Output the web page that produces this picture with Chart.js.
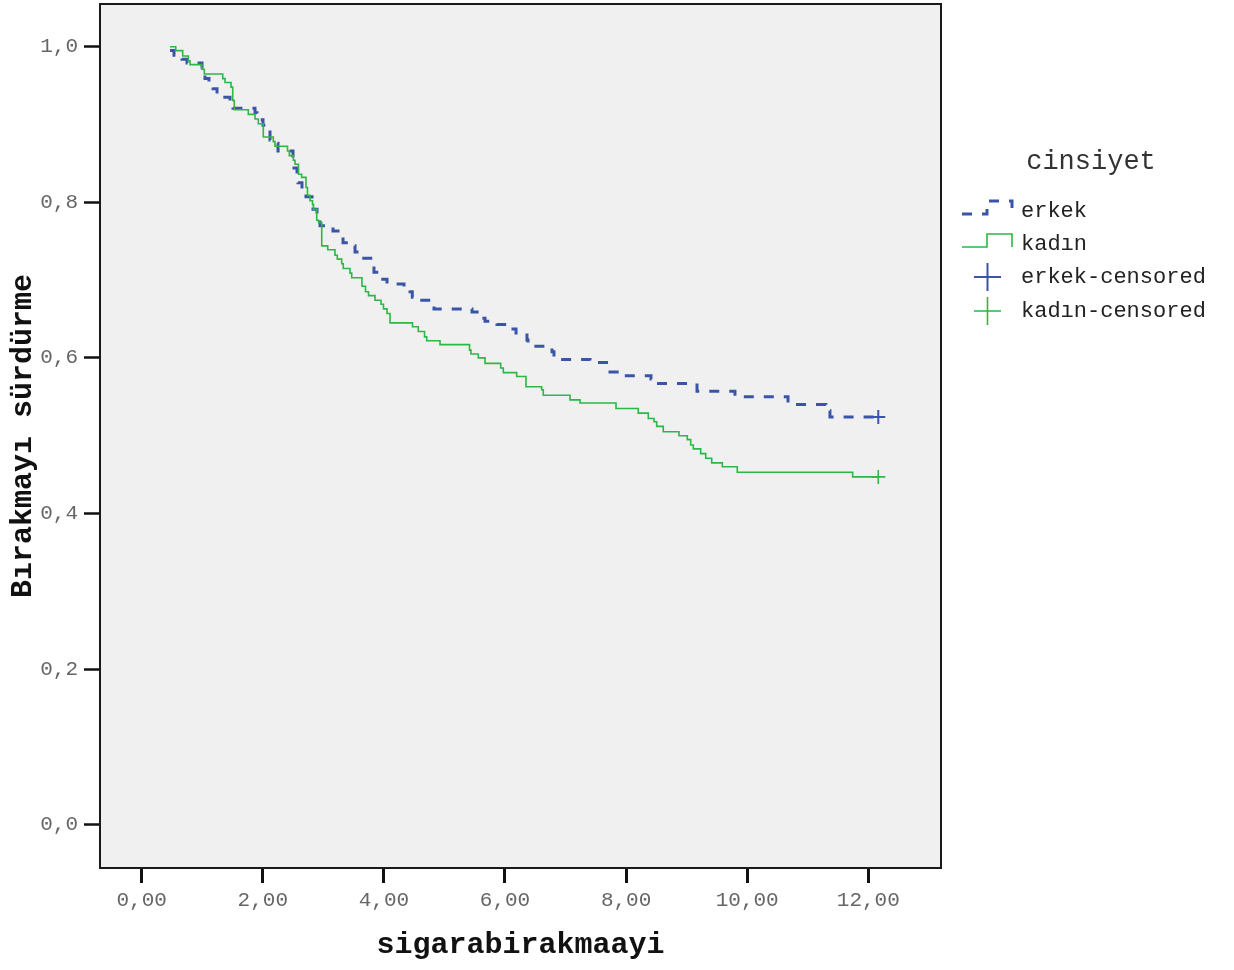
<!DOCTYPE html>
<html>
<head>
<meta charset="utf-8">
<title>Sağkalım: sigarabirakmaayi</title>
<script src="https://cdn.jsdelivr.net/npm/chart.js@4.4.1/dist/chart.umd.min.js"></script>
<style>
  html, body { margin: 0; padding: 0; background: #fff; }
  #wrap { width: 1234px; height: 970px; }
</style>
</head>
<body>
<div id="wrap"><canvas id="kmChart" width="1234" height="970"></canvas></div>
<script>
// Kaplan-Meier survival curves by gender (cinsiyet)

const xTicks = [0, 2, 4, 6, 8, 10, 12];
const xTickLabels = ['0,00', '2,00', '4,00', '6,00', '8,00', '10,00', '12,00'];
const yTicks = [0, 0.2, 0.4, 0.6, 0.8, 1.0];
const yTickLabels = ['0,0', '0,2', '0,4', '0,6', '0,8', '1,0'];

const erkekTime = [0.467, 0.533, 0.666, 0.748, 0.996, 1.045, 1.111, 1.178, 1.244, 1.458, 1.508, 1.871, 1.904, 2.003,
  2.086, 2.119, 2.152, 2.251, 2.499, 2.515, 2.565, 2.581, 2.647, 2.713, 2.813, 2.829, 2.895, 2.945, 3.159, 3.291,
  3.325, 3.490, 3.523, 3.622, 3.820, 3.836, 3.936, 4.051, 4.332, 4.431, 4.469, 4.596, 4.778, 4.827, 5.455, 5.604,
  5.670, 5.868, 6.132, 6.182, 6.363, 6.380, 6.776, 6.809, 7.404, 7.718, 7.734, 7.899, 8.411, 8.461, 9.171, 9.798,
  10.674, 11.301, 11.367, 12.165];
const erkekSurv = [0.995, 0.989, 0.984, 0.979, 0.970, 0.959, 0.952, 0.946, 0.935, 0.929, 0.921, 0.915, 0.906, 0.899,
  0.893, 0.880, 0.876, 0.866, 0.854, 0.844, 0.834, 0.825, 0.813, 0.807, 0.799, 0.791, 0.777, 0.770, 0.763, 0.755,
  0.748, 0.744, 0.736, 0.728, 0.718, 0.710, 0.701, 0.695, 0.689, 0.685, 0.678, 0.674, 0.667, 0.663, 0.659, 0.651,
  0.647, 0.643, 0.637, 0.632, 0.623, 0.615, 0.608, 0.598, 0.594, 0.588, 0.582, 0.577, 0.573, 0.567, 0.557, 0.550,
  0.540, 0.532, 0.524, 0.524];

const kadinTime = [0.467, 0.562, 0.677, 0.770, 0.798, 0.991, 1.034, 1.338, 1.376, 1.475, 1.503, 1.529, 1.761, 1.871,
  1.926, 2.008, 2.173, 2.201, 2.408, 2.438, 2.504, 2.532, 2.590, 2.642, 2.713, 2.738, 2.780, 2.821, 2.837, 2.890,
  2.920, 2.973, 3.072, 3.192, 3.230, 3.303, 3.329, 3.440, 3.468, 3.638, 3.696, 3.746, 3.853, 3.952, 3.993, 4.051,
  4.101, 4.472, 4.568, 4.671, 4.707, 4.927, 5.414, 5.438, 5.559, 5.670, 5.929, 5.972, 6.193, 6.347, 6.606, 6.632,
  7.073, 7.239, 7.833, 8.201, 8.367, 8.461, 8.505, 8.614, 8.874, 9.011, 9.067, 9.110, 9.232, 9.315, 9.414, 9.589,
  9.836, 11.742, 12.165];
const kadinSurv = [1.000, 0.995, 0.988, 0.982, 0.977, 0.971, 0.965, 0.959, 0.954, 0.948, 0.931, 0.919, 0.913, 0.907,
  0.901, 0.884, 0.878, 0.872, 0.866, 0.860, 0.854, 0.849, 0.836, 0.832, 0.819, 0.809, 0.802, 0.797, 0.791, 0.777,
  0.774, 0.744, 0.739, 0.732, 0.727, 0.721, 0.715, 0.709, 0.703, 0.692, 0.685, 0.680, 0.674, 0.669, 0.663, 0.657,
  0.645, 0.640, 0.634, 0.627, 0.622, 0.617, 0.610, 0.605, 0.600, 0.593, 0.587, 0.581, 0.576, 0.563, 0.559, 0.552,
  0.546, 0.542, 0.535, 0.529, 0.522, 0.518, 0.512, 0.505, 0.500, 0.495, 0.488, 0.483, 0.477, 0.471, 0.465, 0.460,
  0.453, 0.447, 0.447];

const erkekCensorTime = [12.165];
const erkekCensorSurv = [0.524];
const kadinCensorTime = [12.165];
const kadinCensorSurv = [0.447];

const BLUE = '#3a55a8';
const GREEN = '#2db744';
const MONO = '"Liberation Mono", "DejaVu Sans Mono", monospace';

function toPoints(xs, ys) {
  return xs.map((x, i) => ({ x: x, y: ys[i] }));
}

// gray plot panel + black frame
const panelPlugin = {
  id: 'panel',
  beforeDatasetsDraw(chart) {
    const a = chart.chartArea;
    const ctx = chart.ctx;
    ctx.save();
    ctx.fillStyle = '#f0f0f0';
    ctx.fillRect(a.left, a.top, a.right - a.left, a.bottom - a.top);
    ctx.restore();
  },
  afterDatasetsDraw(chart) {
    const a = chart.chartArea;
    const ctx = chart.ctx;
    ctx.save();
    ctx.strokeStyle = '#1a1a1a';
    ctx.lineWidth = 2;
    ctx.strokeRect(a.left, a.top, a.right - a.left, a.bottom - a.top);
    ctx.restore();
  }
};

// SPSS-style legend on the right: step symbols for curves, crosses for censored
const kmLegendPlugin = {
  id: 'kmLegend',
  afterDraw(chart) {
    const ctx = chart.ctx;
    const sets = chart.data.datasets;
    const rowY = [211, 244, 277, 311];
    ctx.save();
    ctx.fillStyle = '#333';
    ctx.font = '27px ' + MONO;
    ctx.textAlign = 'center';
    ctx.textBaseline = 'middle';
    ctx.fillText('cinsiyet', 1091, 162);

    ctx.font = '22px ' + MONO;
    ctx.textAlign = 'left';
    sets.forEach((ds, i) => {
      const y = rowY[i];
      ctx.fillStyle = '#222';
      ctx.fillText(ds.label, 1021, y);
      ctx.strokeStyle = ds.borderColor;
      if (ds.showLine === false) {
        ctx.lineWidth = ds.pointBorderWidth;
        ctx.setLineDash([]);
        ctx.beginPath();
        ctx.moveTo(974, y);
        ctx.lineTo(1001, y);
        ctx.moveTo(987.5, y - 14);
        ctx.lineTo(987.5, y + 14);
        ctx.stroke();
      } else {
        ctx.lineWidth = ds.borderWidth;
        ctx.setLineDash(ds.borderDash || []);
        ctx.beginPath();
        ctx.moveTo(962, y + 3);
        ctx.lineTo(987, y + 3);
        ctx.lineTo(987, y - 10);
        ctx.lineTo(1012, y - 10);
        ctx.lineTo(1012, y + 3);
        ctx.stroke();
      }
    });
    ctx.restore();
  }
};

const ctx = document.getElementById('kmChart').getContext('2d');
new Chart(ctx, {
  type: 'line',
  data: {
    datasets: [
      {
        label: 'erkek',
        data: toPoints(erkekTime, erkekSurv),
        stepped: true,
        borderColor: BLUE,
        borderWidth: 3,
        borderDash: [10, 10],
        borderCapStyle: 'butt',
        borderJoinStyle: 'miter',
        pointRadius: 0,
        fill: false,
        order: 2
      },
      {
        label: 'kadın',
        data: toPoints(kadinTime, kadinSurv),
        stepped: true,
        borderColor: GREEN,
        borderWidth: 1.6,
        borderJoinStyle: 'miter',
        pointRadius: 0,
        fill: false,
        order: 1
      },
      {
        label: 'erkek-censored',
        data: toPoints(erkekCensorTime, erkekCensorSurv),
        showLine: false,
        pointStyle: 'cross',
        pointRadius: 7,
        pointBorderWidth: 2,
        borderColor: BLUE,
        pointBorderColor: BLUE,
        order: 0
      },
      {
        label: 'kadın-censored',
        data: toPoints(kadinCensorTime, kadinCensorSurv),
        showLine: false,
        pointStyle: 'cross',
        pointRadius: 7,
        pointBorderWidth: 1.6,
        borderColor: GREEN,
        pointBorderColor: GREEN,
        order: 0
      }
    ]
  },
  options: {
    responsive: false,
    animation: false,
    // points are never near the panel edge, so no automatic padding for them
    layout: { autoPadding: false, padding: { top: 4, right: 293, left: 0, bottom: 0 } },
    scales: {
      x: {
        type: 'linear',
        min: -0.689,
        max: 13.201,
        afterBuildTicks: s => { s.ticks = xTicks.map(v => ({ value: v })); },
        afterFit: s => { s.height = 102; s.paddingLeft = 0; s.paddingRight = 0; },
        ticks: {
          autoSkip: false,
          maxRotation: 0,
          padding: 5,
          color: '#666',
          font: { family: MONO, size: 21 },
          callback: (v, i) => xTickLabels[i]
        },
        grid: { drawOnChartArea: false, tickLength: 15, tickWidth: 3, tickColor: '#111' },
        border: { display: false },
        title: {
          display: true,
          text: 'sigarabirakmaayi',
          color: '#111',
          font: { family: MONO, size: 30, weight: 'bold' },
          padding: { top: 0, bottom: 7 }
        }
      },
      y: {
        type: 'linear',
        min: -0.0557,
        max: 1.0549,
        afterBuildTicks: s => { s.ticks = yTicks.map(v => ({ value: v })); },
        afterFit: s => { s.width = 100; s.paddingTop = 0; s.paddingBottom = 0; },
        ticks: {
          padding: 6,
          color: '#666',
          font: { family: MONO, size: 21 },
          callback: (v, i) => yTickLabels[i]
        },
        grid: { drawOnChartArea: false, tickLength: 16, tickWidth: 2.5, tickColor: '#111' },
        border: { display: false },
        title: {
          display: true,
          text: 'Bırakmayı sürdürme',
          color: '#111',
          font: { family: MONO, size: 30, weight: 'bold' },
          padding: { top: 5, bottom: 0 }
        }
      }
    },
    plugins: {
      legend: { display: false },
      tooltip: { enabled: false }
    }
  },
  plugins: [panelPlugin, kmLegendPlugin]
});
</script>
</body>
</html>
